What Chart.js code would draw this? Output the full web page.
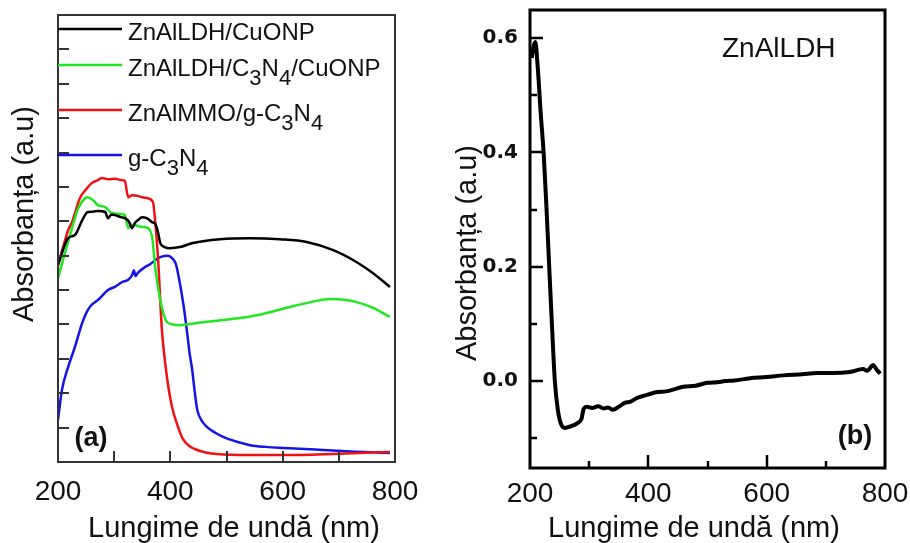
<!DOCTYPE html>
<html>
<head>
<meta charset="utf-8">
<script src="https://cdn.jsdelivr.net/npm/chart.js@4.4.1/dist/chart.umd.min.js"></script>
<style>
  html, body { margin: 0; padding: 0; background: #fff; }
  #wrap { position: relative; width: 910px; height: 543px; }
  .panel { position: absolute; top: 0; width: 455px; height: 543px; }
</style>
</head>
<body>
<div id="wrap">
  <div class="panel" style="left:0"><canvas id="chartA" width="455" height="543"></canvas></div>
  <div class="panel" style="left:455px"><canvas id="chartB" width="455" height="543"></canvas></div>
</div>
<script>
const FONT = "'Liberation Sans', Arial, sans-serif";
Chart.defaults.font.family = FONT;
Chart.defaults.color = '#111';

// ---- panel (a): UV-Vis spectra ----
const seriesLabels = ['ZnAlLDH/CuONP', 'ZnAlLDH/C_3N_4/CuONP', 'ZnAlMMO/g-C_3N_4', 'g-C_3N_4'];
const seriesColors = ['#000000', '#22e622', '#ee1111', '#1414e6'];

const ldhCuoNm  = [200, 218, 230, 243, 253, 262, 271, 284, 289, 295, 302, 312, 319, 326, 332, 337, 342, 350, 358, 367, 374, 378, 382, 390, 399, 417, 440, 488, 542, 595, 643, 690, 732, 761, 791];
const ldhCuoAbs = [0.573, 0.651, 0.660, 0.703, 0.727, 0.728, 0.730, 0.727, 0.709, 0.720, 0.718, 0.712, 0.709, 0.700, 0.680, 0.695, 0.703, 0.712, 0.709, 0.698, 0.690, 0.669, 0.637, 0.625, 0.622, 0.625, 0.637, 0.648, 0.651, 0.648, 0.640, 0.616, 0.581, 0.549, 0.509];

const ldhCnCuoNm  = [200, 218, 236, 248, 253, 262, 271, 284, 296, 308, 319, 325, 330, 337, 345, 355, 367, 373, 378, 382, 388, 394, 405, 417, 450, 494, 554, 613, 650, 684, 710, 732, 761, 791];
const ldhCnCuoAbs = [0.535, 0.640, 0.738, 0.767, 0.770, 0.762, 0.747, 0.741, 0.724, 0.722, 0.718, 0.680, 0.690, 0.689, 0.685, 0.683, 0.660, 0.567, 0.510, 0.471, 0.430, 0.407, 0.400, 0.398, 0.405, 0.413, 0.427, 0.451, 0.465, 0.474, 0.472, 0.465, 0.448, 0.422];

const mmoCnNm  = [200, 210, 218, 225, 239, 252, 260, 271, 278, 290, 302, 312, 319, 325, 332, 342, 350, 360, 369, 373, 378, 385, 390, 395, 403, 412, 422, 435, 448, 465, 483, 540, 600, 700, 791];
const mmoCnAbs = [0.573, 0.630, 0.674, 0.698, 0.767, 0.797, 0.811, 0.820, 0.826, 0.822, 0.824, 0.820, 0.817, 0.770, 0.776, 0.774, 0.770, 0.767, 0.756, 0.700, 0.596, 0.383, 0.300, 0.235, 0.160, 0.110, 0.068, 0.045, 0.035, 0.027, 0.023, 0.020, 0.020, 0.024, 0.029];

const gcnNm  = [200, 207, 218, 230, 243, 253, 262, 271, 289, 302, 314, 325, 332, 335, 338, 342, 355, 364, 373, 381, 389, 396, 403, 410, 417, 424, 430, 434, 439, 443, 448, 456, 465, 480, 494, 520, 542, 570, 601, 640, 672, 730, 791];
const gcnAbs = [0.122, 0.209, 0.276, 0.334, 0.404, 0.442, 0.460, 0.471, 0.500, 0.510, 0.523, 0.530, 0.544, 0.558, 0.541, 0.550, 0.567, 0.575, 0.587, 0.595, 0.599, 0.600, 0.593, 0.575, 0.520, 0.450, 0.375, 0.320, 0.267, 0.210, 0.151, 0.120, 0.102, 0.085, 0.073, 0.058, 0.049, 0.044, 0.041, 0.038, 0.035, 0.030, 0.026];

// ---- panel (b): ZnAlLDH ----
const ldhNm  = [203, 206, 209, 213, 218, 223, 228, 232, 237, 242, 247, 252, 259, 266, 274, 281, 287, 291, 296, 305, 315, 325, 332, 340, 350, 360, 370, 380, 395, 416, 430, 445, 459, 480, 500, 516, 530, 545, 572, 600, 628, 660, 685, 710, 741, 763, 770, 780, 786, 792];
const ldhAbs = [0.565, 0.585, 0.593, 0.550, 0.470, 0.400, 0.300, 0.210, 0.100, 0.000, -0.050, -0.074, -0.082, -0.080, -0.077, -0.073, -0.066, -0.048, -0.045, -0.047, -0.044, -0.048, -0.046, -0.050, -0.045, -0.038, -0.036, -0.030, -0.025, -0.019, -0.018, -0.014, -0.010, -0.008, -0.003, -0.002, 0.000, 0.001, 0.005, 0.007, 0.010, 0.012, 0.014, 0.014, 0.016, 0.021, 0.018, 0.028, 0.020, 0.013];

const xTickLabels = [200, 400, 600, 800];
const bYTickLabels = [0.0, 0.2, 0.4, 0.6];

const toPoints = (xs, ys) => xs.map((x, i) => ({ x, y: ys[i] }));

// frame + inward tick marks
function frameTicks(cfg) {
  return {
    id: 'frameTicks',
    afterDraw(chart) {
      const { ctx, chartArea: a, scales: { x, y } } = chart;
      ctx.save();
      ctx.strokeStyle = cfg.color;
      ctx.lineWidth = cfg.tickWidth;
      ctx.beginPath();
      x.ticks.forEach(t => {
        if (t.value <= x.min || t.value >= x.max) return;
        const px = Math.round(x.getPixelForValue(t.value));
        const len = cfg.xMajor.includes(t.value) ? cfg.major : cfg.minor;
        ctx.moveTo(px, a.bottom); ctx.lineTo(px, a.bottom - len);
      });
      y.ticks.forEach(t => {
        if (t.value <= y.min || t.value >= y.max) return;
        const py = Math.round(y.getPixelForValue(t.value));
        const major = cfg.yMajor ? cfg.yMajor.some(v => Math.abs(v - t.value) < 1e-6) : true;
        ctx.moveTo(a.left, py); ctx.lineTo(a.left + (major ? cfg.major : cfg.minor), py);
      });
      ctx.stroke();
      ctx.lineWidth = cfg.frameWidth;
      ctx.strokeRect(a.left, a.top, a.right - a.left, a.bottom - a.top);
      ctx.restore();
    }
  };
}

// text with _n subscripts
function drawRich(ctx, text, x, y, size, subSize, drop) {
  text.split(/_(\d)/).forEach((part, i) => {
    if (!part) return;
    const sub = i % 2 === 1;
    ctx.font = (sub ? subSize : size) + 'px ' + FONT;
    ctx.fillText(part, x, y + (sub ? drop : 0));
    x += ctx.measureText(part).width;
  });
}

function vTitle(ctx, text, x, y, size) {
  ctx.save();
  ctx.translate(x, y);
  ctx.rotate(-Math.PI / 2);
  ctx.font = size + 'px ' + FONT;
  ctx.textAlign = 'center';
  ctx.textBaseline = 'alphabetic';
  ctx.fillText(text, 0, 0);
  ctx.restore();
}

const legendA = {
  id: 'legendA',
  afterDraw(chart) {
    const { ctx, chartArea: a } = chart;
    const rows = [14, 50, 95, 140];
    ctx.save();
    ctx.textBaseline = 'alphabetic';
    ctx.fillStyle = '#111';
    seriesLabels.forEach((lab, i) => {
      const yy = a.top + rows[i];
      ctx.strokeStyle = seriesColors[i];
      ctx.lineWidth = 2.5;
      ctx.beginPath();
      ctx.moveTo(a.left, yy); ctx.lineTo(a.left + 64, yy);
      ctx.stroke();
      drawRich(ctx, lab, a.left + 70, yy + 11, 24, 22, 9);
    });
    ctx.restore();
  }
};

const textA = {
  id: 'textA',
  afterDraw(chart) {
    const { ctx, chartArea: a } = chart;
    ctx.save();
    ctx.fillStyle = '#111';
    vTitle(ctx, 'Absorbanța (a.u)', 33, a.top + 199, 29);
    ctx.font = '29px ' + FONT;
    ctx.textAlign = 'center';
    ctx.fillText('Lungime de undă (nm)', 234, 537);
    ctx.font = 'bold 27px ' + FONT;
    ctx.textBaseline = 'middle';
    ctx.fillText('(a)', a.left + 33, a.bottom - 23);
    ctx.restore();
  }
};

const textB = {
  id: 'textB',
  afterDraw(chart) {
    const { ctx } = chart;
    ctx.save();
    ctx.fillStyle = '#111';
    vTitle(ctx, 'Absorbanța (a.u)', 21, 253, 29);
    ctx.font = '29px ' + FONT;
    ctx.textAlign = 'center';
    ctx.fillText('Lungime de undă (nm)', 239, 537);
    ctx.textAlign = 'left';
    ctx.font = '28px ' + FONT;
    ctx.fillText('ZnAlLDH', 267, 57);
    ctx.font = 'bold 27px ' + FONT;
    ctx.textAlign = 'center';
    ctx.textBaseline = 'middle';
    ctx.fillText('(b)', 400, 437);
    ctx.restore();
  }
};

const xAxis = (height, pad) => ({
  type: 'linear', min: 200, max: 800,
  grid: { display: false, drawTicks: false },
  border: { display: false },
  ticks: {
    stepSize: 100, autoSkip: false, maxRotation: 0, padding: pad,
    font: { size: 28 }, color: '#111',
    callback: v => xTickLabels.includes(v) ? String(v) : ''
  },
  afterFit: s => { s.height = height; s.paddingLeft = 0; s.paddingRight = 0; }
});

// panel (a)
new Chart(document.getElementById('chartA'), {
  type: 'line',
  data: {
    datasets: [
      [ldhCuoNm, ldhCuoAbs], [ldhCnCuoNm, ldhCnCuoAbs], [mmoCnNm, mmoCnAbs], [gcnNm, gcnAbs]
    ].map(([xs, ys], i) => ({
      label: seriesLabels[i].replace(/_/g, ''),
      data: toPoints(xs, ys),
      borderColor: seriesColors[i],
      borderWidth: 2.5,
      pointRadius: 0,
      cubicInterpolationMode: 'monotone'
    }))
  },
  options: {
    responsive: false,
    animation: false,
    layout: { padding: { top: 15, right: 60, bottom: 0, left: 0 } },
    plugins: { legend: { display: false }, tooltip: { enabled: false } },
    scales: {
      x: xAxis(81, 13),
      y: {
        min: 0, max: 1.3,
        grid: { display: false, drawTicks: false },
        border: { display: false },
        ticks: { stepSize: 0.1, display: false },
        afterFit: s => { s.width = 58; s.paddingTop = 0; s.paddingBottom = 0; }
      }
    }
  },
  plugins: [frameTicks({ color: '#333', frameWidth: 2, tickWidth: 2, major: 11, minor: 11, xMajor: [400, 600] }), legendA, textA]
});

// panel (b)
new Chart(document.getElementById('chartB'), {
  type: 'line',
  data: {
    datasets: [{
      label: 'ZnAlLDH',
      data: toPoints(ldhNm, ldhAbs),
      borderColor: '#000',
      borderWidth: 4,
      pointRadius: 0,
      borderJoinStyle: 'round',
      cubicInterpolationMode: 'monotone'
    }]
  },
  options: {
    responsive: false,
    animation: false,
    layout: { padding: { top: 10, right: 25, bottom: 0, left: 0 } },
    plugins: { legend: { display: false }, tooltip: { enabled: false } },
    scales: {
      x: xAxis(75, 9),
      y: {
        min: -0.152, max: 0.649,
        grid: { display: false, drawTicks: false },
        border: { display: false },
        ticks: {
          stepSize: 0.1, includeBounds: false, autoSkip: false, padding: 12,
          font: { size: 20, weight: 'bold', family: "'DejaVu Sans', sans-serif" }, color: '#111',
          callback: v => bYTickLabels.some(t => Math.abs(t - v) < 1e-6) ? v.toFixed(1) : ''
        },
        afterFit: s => { s.width = 75; s.paddingTop = 0; s.paddingBottom = 0; }
      }
    }
  },
  plugins: [frameTicks({ color: '#000', frameWidth: 3, tickWidth: 2.5, major: 13, minor: 7, xMajor: [400, 600], yMajor: bYTickLabels }), textB]
});
</script>
</body>
</html>
